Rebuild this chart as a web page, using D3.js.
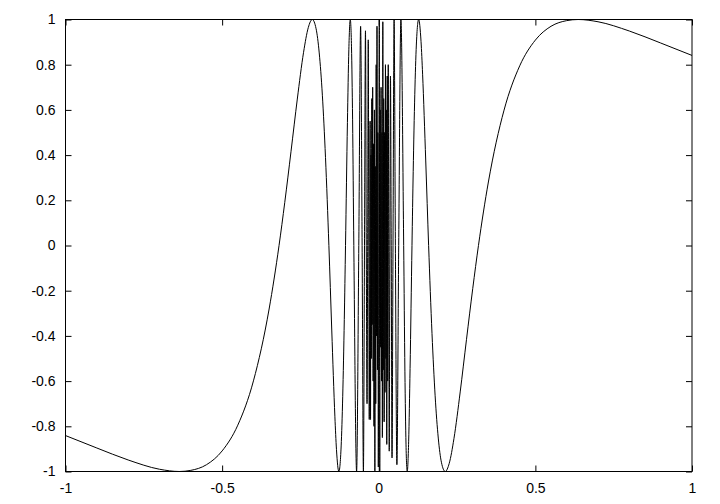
<!DOCTYPE html>
<html>
<head>
<meta charset="utf-8">
<script src="https://cdn.jsdelivr.net/npm/d3@7"></script>
<style>
  html, body { margin: 0; padding: 0; background: #fff; }
  svg { display: block; }
  text { font-family: "Liberation Sans", Arial, sans-serif; font-size: 14px; fill: #000; }
</style>
</head>
<body>
<svg id="chart" width="720" height="504"></svg>
<script>
// x values (left lobe, dense middle, right lobe)
const xValues = [
  -1, -0.9, -0.8, -0.7, -0.6366, -0.6, -0.55, -0.5, -0.45, -0.4, -0.35, -0.3183,
  -0.3, -0.28, -0.26, -0.24, -0.225, -0.2122, -0.2, -0.19, -0.18, -0.17, -0.1592,
  -0.15, -0.14, -0.135, -0.1273, -0.12, -0.115, -0.11, -0.1061, -0.1, -0.0955,
  -0.0909, -0.087, -0.0835, -0.0796, -0.0707, -0.0637, -0.0579, -0.0531, -0.049,
  -0.0455, -0.0424, -0.0398, -0.0374, -0.0354, -0.0335, -0.0318, -0.0303,
  -0.0275, -0.0262, -0.0249, -0.0236, -0.0222, -0.0208, -0.0194, -0.018, -0.0166, -0.0152,
  -0.0138, -0.0124, -0.011, -0.0096, -0.0082, -0.0068, -0.0056, -0.0042, -0.0028, -0.0014,
  0.0018, 0.0032, 0.0046, 0.006, 0.0074, 0.0088, 0.0102, 0.0116, 0.013, 0.0144,
  0.0158, 0.0172, 0.0186, 0.02, 0.0214, 0.0228, 0.0242, 0.0256, 0.027, 0.0286,
  0.0303, 0.0318, 0.0335, 0.0354, 0.0374, 0.0398, 0.0424, 0.0455, 0.049, 0.0531,
  0.0579, 0.0637, 0.0707, 0.0796, 0.0835, 0.087, 0.0909, 0.0955, 0.1, 0.1061,
  0.11, 0.115, 0.12, 0.1273, 0.135, 0.14, 0.15, 0.1592, 0.17, 0.18, 0.19, 0.2,
  0.2122, 0.225, 0.24, 0.26, 0.28, 0.3, 0.3183, 0.35, 0.4, 0.45, 0.5, 0.55,
  0.6, 0.6366, 0.7, 0.8, 0.9, 1
];
// y values, one per x value
const yValues = [
  -0.841, -0.896, -0.949, -0.990, -1, -0.995, -0.970, -0.909, -0.795, -0.599, -0.281, 0,
  0.191, 0.417, 0.648, 0.855, 0.964, 1, 0.959, 0.852, 0.665, 0.390, 0,
  -0.374, -0.758, -0.902, -1, -0.887, -0.667, -0.328, 0, 0.544, 0.866,
  1, 0.879, 0.556, 0, -1, 0, 0.97, 0, -1,
  0, 0.95, 0, -0.7, 0, 0.91, 0, -0.77,
  0.55, -0.77, 0.4, -0.5, 0.65, -0.35, 0.7, -0.6, 0.45, -0.8,
  0.6, -1.0, 0.35, -0.7, 0.8, -0.4, 0.97, -0.55, 0.5, -0.98,
  1.0, -1.0, 0.6, -0.45, 0.7, -0.6, 0.5, -0.85, 0.99, -0.55,
  0.65, -0.78, 0.5, -0.65, 0.8, -0.5, 0.6, -0.88, 0.75, -0.6,
  0.8, 0, -0.91, 0, 0.75, 0, -0.94, 0, 1.0, 0,
  -0.97, 0, 1.0, 0, -0.556, -0.879, -1, -0.866, -0.544, 0,
  0.328, 0.667, 0.887, 1, 0.902, 0.758, 0.374, 0, -0.390, -0.665, -0.852, -0.959,
  -1, -0.964, -0.855, -0.648, -0.417, -0.191, 0, 0.281, 0.599, 0.795, 0.909, 0.970,
  0.995, 1, 0.990, 0.949, 0.896, 0.841
];
const xTicks = [-1, -0.5, 0, 0.5, 1];
const yTicks = [-1, -0.8, -0.6, -0.4, -0.2, 0, 0.2, 0.4, 0.6, 0.8, 1];

const svg = d3.select("#chart");
const L = 65.5, R = 692, T = 19.5, B = 471.5;

const x = d3.scaleLinear().domain([-1, 1]).range([L, R]);
const y = d3.scaleLinear().domain([-1, 1]).range([B, T]);

const fmt = d => String(d);

// axes with inward ticks, mirrored on top and right
const gL = svg.append("g").attr("transform", `translate(${L},0)`)
  .call(d3.axisLeft(y).tickValues(yTicks).tickSize(-6).tickPadding(10).tickFormat(fmt));
const gB = svg.append("g").attr("transform", `translate(0,${B})`)
  .call(d3.axisBottom(x).tickValues(xTicks).tickSize(-6).tickPadding(12).tickFormat(fmt));
const gR = svg.append("g").attr("transform", `translate(${R},0)`)
  .call(d3.axisRight(y).tickValues(yTicks).tickSize(-6).tickFormat(""));
const gT = svg.append("g").attr("transform", `translate(0,${T})`)
  .call(d3.axisTop(x).tickValues(xTicks).tickSize(-6).tickFormat(""));

[gL, gB, gR, gT].forEach(g => {
  g.select(".domain").remove();
  g.selectAll(".tick line").attr("stroke", "#000").attr("stroke-width", 1);
  g.selectAll("text").attr("font-family", "Liberation Sans, Arial, sans-serif").attr("font-size", 14).attr("fill", "#000");
});

svg.append("clipPath").attr("id", "clip")
  .append("rect").attr("x", L).attr("y", T).attr("width", R - L).attr("height", B - T);

const data = xValues.map((v, i) => [v, yValues[i]]);
const line = d3.line()
  .x(d => x(d[0]))
  .y(d => y(d[1]))
  .curve(d3.curveMonotoneX);

svg.append("path")
  .datum(data)
  .attr("clip-path", "url(#clip)")
  .attr("fill", "none")
  .attr("stroke", "#000")
  .attr("stroke-width", 1)
  .attr("d", line);

svg.append("rect")
  .attr("x", L).attr("y", T).attr("width", R - L).attr("height", B - T)
  .attr("fill", "none").attr("stroke", "#000").attr("stroke-width", 1);
</script>
</body>
</html>
